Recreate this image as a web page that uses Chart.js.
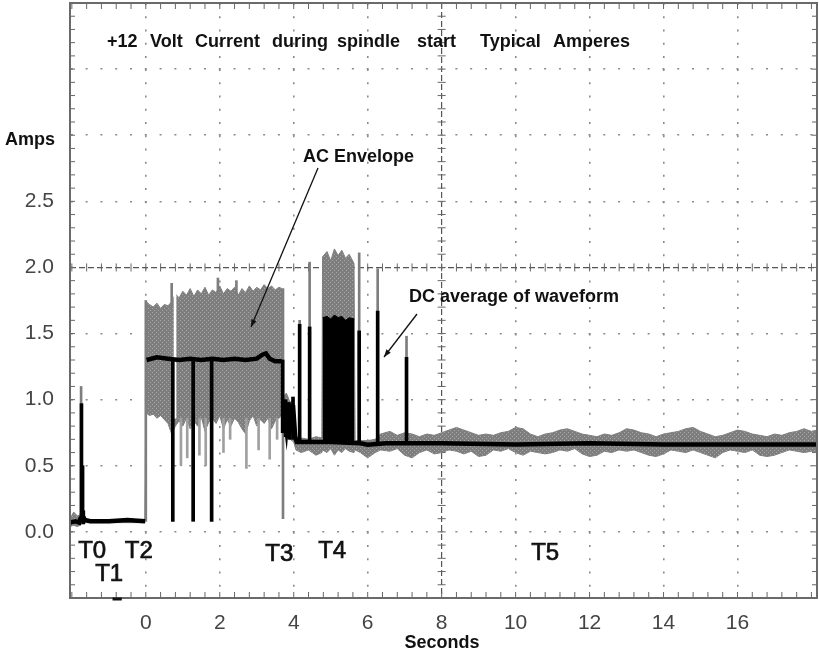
<!DOCTYPE html>
<html>
<head>
<meta charset="utf-8">
<script src="https://cdn.jsdelivr.net/npm/chart.js@4/dist/chart.umd.min.js"></script>
<style>
  html, body { margin: 0; padding: 0; background: #fff; }
</style>
</head>
<body>
<canvas id="scope" width="819" height="652"></canvas>
<script>
// ---- data (seconds / amps) ----
const xTicks = [0, 2, 4, 6, 8, 10, 12, 14, 16];
const yTicks = [0, 0.5, 1.0, 1.5, 2.0, 2.5, 3.0, 3.5];
const yTickLabels = ['0.0', '0.5', '1.0', '1.5', '2.0', '2.5'];

// AC envelope (grey band), upper and lower edge
const envT = [-2.05, -1.95, -1.85, -1.78, -1.70, -1.60, -0.02,
  0.01, 0.1, 0.2, 0.3, 0.4, 0.5, 0.6, 0.7, 0.8, 0.9, 1.0, 1.1, 1.2, 1.3, 1.4, 1.5, 1.6, 1.7, 1.8, 1.9,
  2.0, 2.1, 2.2, 2.3, 2.4, 2.5, 2.6, 2.7, 2.8, 2.9, 3.0, 3.1, 3.2, 3.3, 3.4, 3.5, 3.6, 3.68,
  3.72, 3.8, 3.9, 4.0, 4.06, 4.2, 4.4, 4.6, 4.76,
  4.78, 4.9, 5.0, 5.1, 5.2, 5.3, 5.4, 5.5, 5.63,
  5.66, 5.8, 6.0, 6.2, 6.35, 6.6, 6.8, 7.0, 7.2, 7.4, 7.6, 7.8, 8.0, 8.2, 8.4, 8.6, 8.8,
  9.0, 9.2, 9.4, 9.6, 9.8, 10.0, 10.2, 10.4, 10.6, 10.8, 11.0, 11.2, 11.4, 11.6, 11.8,
  12.0, 12.2, 12.4, 12.6, 12.8, 13.0, 13.2, 13.4, 13.6, 13.8, 14.0, 14.2, 14.4, 14.6, 14.8,
  15.0, 15.2, 15.4, 15.6, 15.8, 16.0, 16.2, 16.4, 16.6, 16.8, 17.0, 17.2, 17.4, 17.6, 17.8, 18.0, 18.15];
const envHigh = [0.10, 0.15, 0.12, 0.13, 0.10, 0.09, 0.09,
  1.74, 1.72, 1.70, 1.73, 1.69, 1.72, 1.71, 1.74, 1.80, 1.77, 1.82, 1.79, 1.84, 1.78, 1.83, 1.80, 1.85, 1.79, 1.83, 1.81,
  1.86, 1.80, 1.84, 1.82, 1.85, 1.79, 1.84, 1.81, 1.86, 1.82, 1.85, 1.83, 1.87, 1.84, 1.86, 1.83, 1.85, 1.84,
  1.02, 1.05, 0.98, 1.00, 0.72, 0.71, 0.70, 0.72, 0.71,
  2.08, 2.12, 2.05, 2.14, 2.09, 2.13, 2.07, 2.10, 2.03,
  0.69, 0.69, 0.69, 0.70, 0.74, 0.76, 0.73, 0.75, 0.74, 0.72, 0.74, 0.73, 0.75, 0.77, 0.79, 0.77, 0.75,
  0.73, 0.74, 0.73, 0.75, 0.76, 0.79, 0.78, 0.74, 0.72, 0.74, 0.75, 0.77, 0.78, 0.76, 0.74,
  0.73, 0.72, 0.74, 0.73, 0.75, 0.78, 0.77, 0.75, 0.74, 0.72, 0.74, 0.75, 0.76, 0.78, 0.79,
  0.76, 0.74, 0.72, 0.73, 0.75, 0.77, 0.76, 0.74, 0.73, 0.72, 0.74, 0.73, 0.75, 0.76, 0.78, 0.76, 0.77];
const envLow = [0.04, 0.05, 0.04, 0.05, 0.07, 0.07, 0.07,
  0.90, 0.88, 0.89, 0.86, 0.88, 0.85, 0.82, 0.74, 0.80, 0.84, 0.80, 0.86, 0.78, 0.84, 0.80, 0.87, 0.76, 0.83, 0.86, 0.82,
  0.88, 0.78, 0.85, 0.80, 0.86, 0.83, 0.78, 0.74, 0.84, 0.88, 0.80, 0.85, 0.82, 0.86, 0.78, 0.84, 0.86, 0.88,
  0.75, 0.72, 0.70, 0.68, 0.62, 0.60, 0.62, 0.58, 0.60,
  0.62, 0.60, 0.63, 0.58, 0.62, 0.60, 0.63, 0.61, 0.60,
  0.62, 0.60, 0.56, 0.60, 0.62, 0.61, 0.63, 0.58, 0.56, 0.60, 0.62, 0.59, 0.60, 0.62, 0.61, 0.59, 0.61,
  0.57, 0.58, 0.62, 0.61, 0.63, 0.60, 0.58, 0.61, 0.60, 0.59, 0.60, 0.62, 0.61, 0.63, 0.59,
  0.57, 0.58, 0.61, 0.60, 0.62, 0.61, 0.62, 0.60, 0.58, 0.57, 0.59, 0.62, 0.61, 0.60, 0.62,
  0.60, 0.58, 0.56, 0.60, 0.62, 0.61, 0.60, 0.62, 0.58, 0.57, 0.58, 0.60, 0.62, 0.61, 0.60, 0.61, 0.60];

// DC average (black trace); null = pen lifted
const dcT = [-2.05, -1.90, -1.80, -1.77, -1.70, -1.65, -1.50, -1.0, -0.5, -0.02, 0.0,
  0.02, 0.3, 0.6, 0.9, 1.2, 1.5, 1.8, 2.1, 2.4, 2.7, 3.0, 3.15, 3.25, 3.35, 3.5, 3.68, 3.7,
  3.74, 3.80, 3.86, 3.92, 3.98, 4.04, 4.08, 4.5, 5.0, 5.8, 6.0, 6.5, 7.0, 8.0, 10.0, 12.0, 14.0, 16.0, 18.15];
const dcY = [0.07, 0.08, 0.07, 0.10, 0.12, 0.09, 0.08, 0.08, 0.09, 0.08, null,
  1.30, 1.32, 1.31, 1.30, 1.31, 1.30, 1.31, 1.30, 1.31, 1.30, 1.31, 1.34, 1.35, 1.31, 1.29, 1.29, null,
  0.92, 0.78, 0.98, 0.74, 0.96, 0.72, 0.68, 0.68, 0.68, 0.67, 0.66, 0.67, 0.67, 0.67, 0.66, 0.67, 0.66, 0.66, 0.66];

// solid black block during T4
const blockT = [4.78, 4.9, 5.0, 5.1, 5.2, 5.3, 5.4, 5.5, 5.64];
const blockY = [1.62, 1.63, 1.61, 1.64, 1.62, 1.63, 1.60, 1.62, 1.61];
const blockBase = 0.68;

// black vertical spikes
const spikeT    = [-1.74, -1.71, -1.69, 0.73, 1.28, 1.78, 3.70, 3.78, 3.88, 3.98, 4.16, 4.43, 5.77, 6.27, 7.05];
const spikeLow  = [0.08, 0.08, 0.06, 0.08, 0.08, 0.08, 0.75, 0.72, 0.70, 0.70, 0.68, 0.68, 0.68, 0.68, 0.68];
const spikeHigh = [0.97, 0.50, 0.16, 1.31, 1.31, 1.31, 1.30, 1.00, 0.95, 1.02, 1.57, 1.55, 1.52, 1.67, 1.32];

// grey vertical hairs
const hairT    = [-1.75, 0.0, 3.71, 4.16, 4.43, 5.77, 6.27, 7.05, 0.70, 1.95, 2.45];
const hairLow  = [0.08, 0.08, 0.10, 0.68, 0.68, 0.65, 0.65, 0.65, 1.70, 1.80, 1.80];
const hairHigh = [1.10, 1.75, 1.84, 1.60, 2.04, 2.11, 1.99, 1.48, 1.88, 1.92, 1.90];

// light grey downward hairs below the envelope
const dipT    = [0.95, 1.12, 1.45, 1.62, 2.10, 2.28, 2.72, 3.05, 3.35, 3.55];
const dipLow  = [0.50, 0.56, 0.58, 0.50, 0.60, 0.70, 0.48, 0.62, 0.55, 0.70];
const dipHigh = [0.86, 0.86, 0.86, 0.86, 0.86, 0.86, 0.86, 0.86, 0.86, 0.86];

// white gap through the envelope
const gapT = [0.79];
const gapLow = [0.86];
const gapHigh = [1.87];

const pts = (ts, ys) => ts.map((t, i) => ({ x: t, y: ys[i] }));
const bars = (ts, lo, hi) => ts.map((t, i) => ({ x: t, y: [lo[i], hi[i]] }));

const canvas = document.getElementById('scope');
const ctx0 = canvas.getContext('2d');

function halftone() {
  const c = document.createElement('canvas');
  c.width = 4; c.height = 4;
  const g = c.getContext('2d');
  g.fillStyle = '#7e7e7e';
  g.fillRect(0, 0, 4, 4);
  g.fillStyle = '#a6a6a6';
  g.fillRect(0, 0, 1, 1);
  g.fillRect(2, 2, 1, 1);
  return ctx0.createPattern(c, 'repeat');
}

const FONT = '"Liberation Sans", Arial, Helvetica, sans-serif';
const isCenter = (c, v) => c.tick && Math.abs(c.tick.value - v) < 1e-9;

function arrow(ctx, x1, y1, x2, y2) {
  ctx.beginPath();
  ctx.moveTo(x1, y1);
  ctx.lineTo(x2, y2);
  ctx.stroke();
  const a = Math.atan2(y2 - y1, x2 - x1);
  ctx.beginPath();
  ctx.moveTo(x2, y2);
  ctx.lineTo(x2 - 8 * Math.cos(a - 0.35), y2 - 8 * Math.sin(a - 0.35));
  ctx.lineTo(x2 - 8 * Math.cos(a + 0.35), y2 - 8 * Math.sin(a + 0.35));
  ctx.closePath();
  ctx.fill();
}

const scopeDecor = {
  id: 'scopeDecor',
  beforeDatasetsDraw(chart) {
    const { ctx, chartArea: a, scales: { x, y } } = chart;
    ctx.save();
    ctx.strokeStyle = '#666';
    ctx.lineWidth = 1;
    const yc = y.getPixelForValue(2.0);
    const xc = x.getPixelForValue(8);
    ctx.beginPath();
    // crosses along the centre lines, minor ticks on the frame
    for (let k = 0; k <= 50; k++) {
      const px = x.getPixelForValue(-2 + 0.4 * k);
      if (px > a.right) break;
      ctx.moveTo(px, yc - 4); ctx.lineTo(px, yc + 4);
      ctx.moveTo(px, a.top); ctx.lineTo(px, a.top + 6);
      ctx.moveTo(px, a.bottom); ctx.lineTo(px, a.bottom - 6);
    }
    for (let k = 0; k <= 45; k++) {
      const py = y.getPixelForValue(-0.5 + 0.1 * k);
      ctx.moveTo(xc - 4, py); ctx.lineTo(xc + 4, py);
      ctx.moveTo(a.left, py); ctx.lineTo(a.left + 5, py);
      ctx.moveTo(a.right, py); ctx.lineTo(a.right - 5, py);
    }
    ctx.stroke();
    ctx.restore();
  },
  afterDatasetsDraw(chart) {
    const { ctx, chartArea: a, scales: { x } } = chart;
    ctx.save();
    ctx.strokeStyle = '#6a6a6a';
    ctx.lineWidth = 2;
    ctx.strokeRect(a.left, a.top, a.right - a.left, a.bottom - a.top);
    // small marker on the bottom edge
    ctx.strokeStyle = '#111';
    ctx.lineWidth = 3;
    ctx.beginPath();
    ctx.moveTo(x.getPixelForValue(-0.9), a.bottom + 1);
    ctx.lineTo(x.getPixelForValue(-0.65), a.bottom + 1);
    ctx.stroke();
    ctx.restore();
  },
  afterDraw(chart) {
    const { ctx, scales: { x, y } } = chart;
    ctx.save();
    ctx.fillStyle = '#111';
    ctx.textBaseline = 'alphabetic';
    ctx.font = 'bold 18px ' + FONT;
    const title = [['+12', 107], ['Volt', 150], ['Current', 195], ['during', 272],
      ['spindle', 337], ['start', 417], ['Typical', 480], ['Amperes', 553]];
    title.forEach(([w, px]) => ctx.fillText(w, px, 47));
    ctx.fillText('Amps', 5, 145);
    ctx.textAlign = 'center';
    ctx.fillText('Seconds', 442, 648);
    ctx.textAlign = 'left';
    ctx.fillText('AC Envelope', 303, 162);
    ctx.fillText('DC average of waveform', 409, 302);

    ctx.strokeStyle = '#111';
    ctx.lineWidth = 1.3;
    arrow(ctx, 318, 168, 251, 327);
    arrow(ctx, 417, 314, 384, 357);

    // phase markers
    ctx.font = '24px ' + FONT;
    ctx.fillStyle = '#111';
    ctx.strokeStyle = '#111';
    ctx.lineWidth = 0.7;
    ctx.textBaseline = 'middle';
    const phases = [['T0', -1.83, -0.15], ['T1', -1.37, -0.32], ['T2', -0.57, -0.15],
      ['T3', 3.23, -0.17], ['T4', 4.66, -0.15], ['T5', 10.42, -0.16]];
    phases.forEach(([s, t, v]) => {
      const px = x.getPixelForValue(t), py = y.getPixelForValue(v);
      ctx.fillText(s, px, py);
      ctx.strokeText(s, px, py);
    });
    ctx.restore();
  }
};

new Chart(canvas, {
  type: 'line',
  data: {
    datasets: [
      {
        label: 'AC envelope',
        data: pts(envT, envHigh),
        borderColor: '#7e7e7e',
        borderWidth: 1,
        backgroundColor: halftone(),
        fill: 1,
        pointRadius: 0,
        order: 9
      },
      {
        label: 'envelope low',
        data: pts(envT, envLow),
        borderColor: '#7e7e7e',
        borderWidth: 1,
        fill: false,
        pointRadius: 0,
        order: 10
      },
      {
        label: 'DC average',
        data: pts(dcT, dcY),
        borderColor: '#000',
        borderWidth: 4.5,
        fill: false,
        pointRadius: 0,
        spanGaps: false,
        order: 1
      },
      {
        label: 'T4 block',
        data: pts(blockT, blockY),
        borderColor: '#000',
        borderWidth: 1,
        backgroundColor: '#000',
        fill: { target: { value: blockBase } },
        pointRadius: 0,
        order: 2
      },
      {
        type: 'bar',
        label: 'spikes',
        data: bars(spikeT, spikeLow, spikeHigh),
        backgroundColor: '#000',
        barThickness: 3,
        grouped: false,
        order: 3
      },
      {
        type: 'bar',
        label: 'gap',
        data: bars(gapT, gapLow, gapHigh),
        backgroundColor: '#fff',
        barThickness: 2,
        grouped: false,
        order: 4
      },
      {
        type: 'bar',
        label: 'hairs',
        data: bars(hairT, hairLow, hairHigh),
        backgroundColor: '#7e7e7e',
        barThickness: 2,
        grouped: false,
        order: 5
      },
      {
        type: 'bar',
        label: 'dips',
        data: bars(dipT, dipLow, dipHigh),
        backgroundColor: '#a0a0a0',
        barThickness: 2,
        grouped: false,
        order: 6
      }
    ]
  },
  options: {
    responsive: false,
    animation: false,
    events: [],
    layout: { autoPadding: false, padding: { top: 3, right: 2, left: 0, bottom: 0 } },
    plugins: {
      legend: { display: false },
      tooltip: { enabled: false }
    },
    scales: {
      x: {
        type: 'linear',
        min: -2.05,
        max: 18.15,
        offset: false,
        afterBuildTicks: s => { s.ticks = xTicks.map(v => ({ value: v })); },
        afterFit: s => { s.height = 54; s.paddingLeft = 0; s.paddingRight = 0; },
        grid: {
          offset: false,
          drawTicks: false,
          color: c => isCenter(c, 8) ? '#555' : '#8a8a8a',
          lineWidth: c => isCenter(c, 8) ? 1.2 : 1.6
        },
        border: {
          display: false,
          dash: c => isCenter(c, 8) ? [6, 3] : [2, 11.22],
          dashOffset: 0
        },
        ticks: {
          padding: 13,
          color: '#444',
          font: { family: FONT, size: 21 },
          callback: v => String(v)
        }
      },
      y: {
        type: 'linear',
        min: -0.5,
        max: 4.0,
        afterBuildTicks: s => { s.ticks = yTicks.map(v => ({ value: v })); },
        afterFit: s => { s.width = 70; s.paddingTop = 0; s.paddingBottom = 0; },
        grid: {
          offset: false,
          drawTicks: false,
          color: c => isCenter(c, 2) ? '#555' : '#8a8a8a',
          lineWidth: c => isCenter(c, 2) ? 1.2 : 1.6
        },
        border: {
          display: false,
          dash: c => isCenter(c, 2) ? [6, 3] : [2, 12.79],
          dashOffset: c => isCenter(c, 2) ? 0 : 13.94
        },
        ticks: {
          padding: 16,
          color: '#444',
          font: { family: FONT, size: 21 },
          callback: v => {
            const s = v.toFixed(1);
            return yTickLabels.includes(s) ? s : '';
          }
        }
      }
    }
  },
  plugins: [scopeDecor]
});
</script>
</body>
</html>
